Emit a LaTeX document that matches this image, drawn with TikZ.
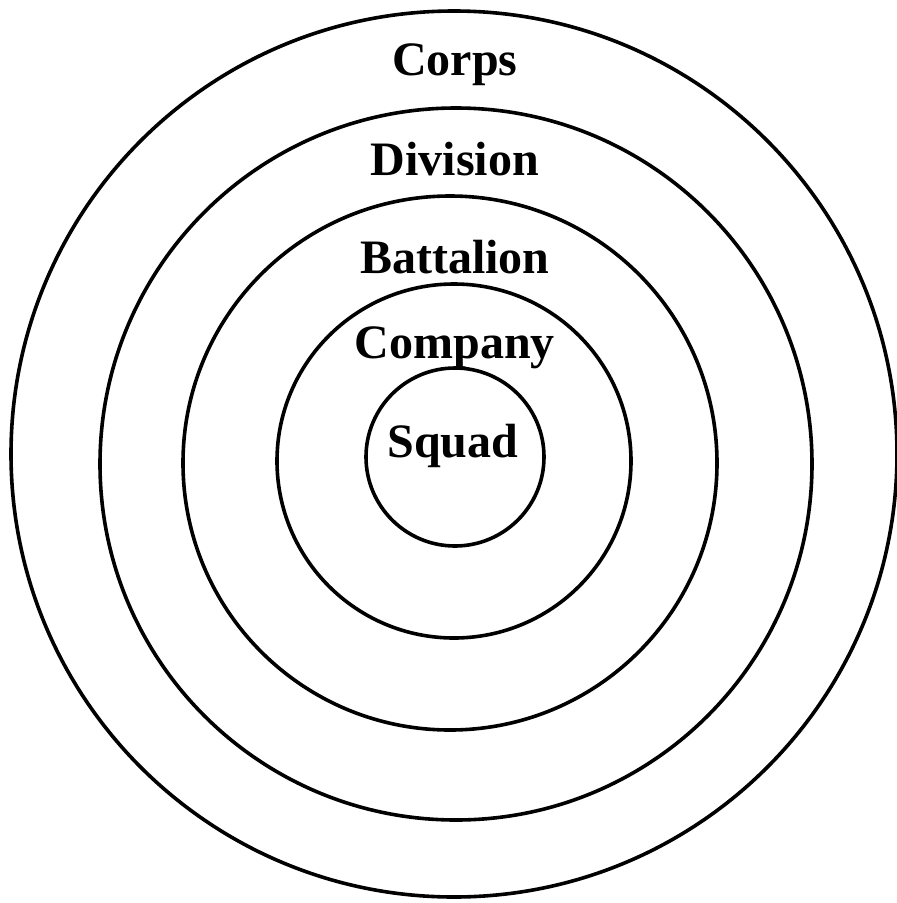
\documentclass[tikz,border=0pt]{standalone}
\usepackage{fontspec}
\setmainfont{Liberation Serif}

\tikzset{
  ring/.style={circle, draw, line width=3.6pt, inner sep=0pt, minimum size=#1},
  unit/.style={anchor=base, font=\fontsize{48}{48}\selectfont\bfseries, inner sep=0pt}
}

\begin{document}
\begin{tikzpicture}[x=1pt,y=-1pt]
\useasboundingbox (0,0) rectangle (897,903);
  % rings, outer to inner
  \node[ring=886pt] (corps) at (454,454) {};
  \node[ring=712pt] (division) at (456,464) {};
  \node[ring=534pt] (battalion) at (450,463) {};
  \node[ring=354pt] (company) at (454,461) {};
  \node[ring=178pt] (squad) at (455,457) {};
  % labels
  \node[unit] (corpsL) at (455,75) {Corps};
  \node[unit] (divisionL) at (455,175) {Division};
  \node[unit] (battalionL) at (455,273) {Battalion};
  \node[unit] (companyL) at (455,358) {Company};
  \node[unit] (squadL) at (453,457) {Squad};
\end{tikzpicture}
\end{document}
